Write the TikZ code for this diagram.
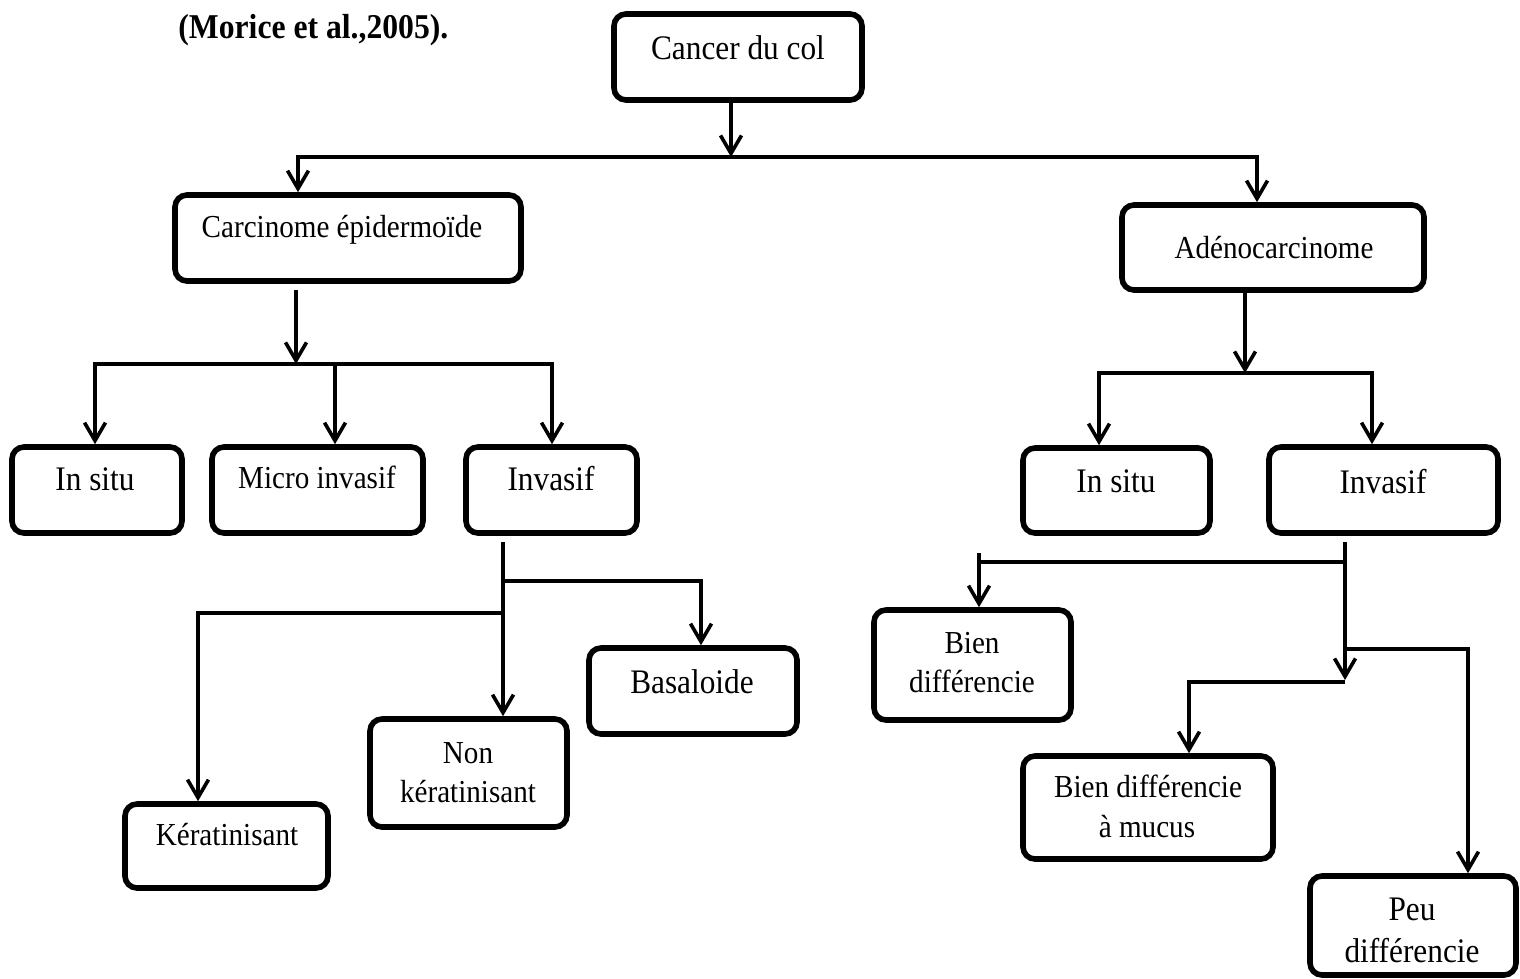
\documentclass[tikz,border=0pt]{standalone}
\usepackage{fontspec}
\setmainfont{Liberation Serif}[FakeStretch=0.91]
\usetikzlibrary{arrows.meta,fit}
\begin{document}
\begin{tikzpicture}[x=0.5pt,y=-0.5pt,
  box/.style={draw, line width=2.8pt, rounded corners=6pt, inner sep=0pt},
  conn/.style={line width=1.8pt},
  arr/.style={line width=1.8pt, -{Straight Barb[length=9pt,width=10.5pt]}},
  tsm/.style={font=\fontsize{16}{19}\selectfont, inner sep=0pt, anchor=base},
  tmd/.style={font=\fontsize{17.2}{20}\selectfont, inner sep=0pt, anchor=base},
]
\path[fill=white,use as bounding box] (0,0) rectangle (1520,979);

% title
\node[font=\fontsize{17.4}{21}\selectfont\bfseries, anchor=base west, inner sep=0pt] (title) at (178,39) {(Morice et al.,2005).};

% boxes
\node[box, fit={(614,14) (862,100)}] (col) {};
\node[box, fit={(175,195) (521,281)}] (carc) {};
\node[box, fit={(1122,205) (1424,290)}] (adeno) {};
\node[box, fit={(12,447) (182,533)}] (lsitu) {};
\node[box, fit={(212,447) (423,533)}] (micro) {};
\node[box, fit={(466,447) (637,533)}] (linv) {};
\node[box, fit={(589,648) (797,734)}] (basal) {};
\node[box, fit={(370,719) (567,827)}] (nonk) {};
\node[box, fit={(125,804) (328,888)}] (kera) {};
\node[box, fit={(1023,448) (1210,533)}] (rsitu) {};
\node[box, fit={(1269,447) (1498,533)}] (rinv) {};
\node[box, fit={(874,610) (1071,720)}] (bien) {};
\node[box, fit={(1023,756) (1273,859)}] (mucus) {};
\node[box, fit={(1310,876) (1516,975)}] (peu) {};

% texts
\node[tmd] (colt) at (738,60) {Cancer du col};
\node[tsm] (carct) at (342,237) {Carcinome épidermoïde};
\node[tsm] (adenot) at (1274,258) {Adénocarcinome};
\node[tmd] (lsitut) at (95,490) {In situ};
\node[tsm] (microt) at (317,488) {Micro invasif};
\node[tmd] (linvt) at (551,490) {Invasif};
\node[tmd] (basalt) at (692,693) {Basaloide};
\node[tsm] (nonkt1) at (468,763) {Non};
\node[tsm] (nonkt2) at (468,802) {kératinisant};
\node[tsm] (kerat) at (227,845) {Kératinisant};
\node[tmd] (rsitut) at (1116,492) {In situ};
\node[tmd] (rinvt) at (1383,493) {Invasif};
\node[tsm] (bient1) at (972,653) {Bien};
\node[tsm] (bient2) at (972,692) {différencie};
\node[tsm] (mucust1) at (1148,797) {Bien différencie};
\node[tsm] (mucust2) at (1147,837) {à mucus};
\node[tmd] (peut1) at (1412,920) {Peu};
\node[tmd] (peut2) at (1412,962) {différencie};

% junction coordinates
\coordinate (j0) at (731,157);
\coordinate (j0L) at (298,157);
\coordinate (j0R) at (1257,157);
\coordinate (c1s) at (296,290);
\coordinate (j1) at (296,364);
\coordinate (j1L) at (95,364);
\coordinate (j1M) at (335,364);
\coordinate (j1R) at (552,364);
\coordinate (j2) at (1245,373);
\coordinate (j2L) at (1099,373);
\coordinate (j2R) at (1372,373);
\coordinate (l1s) at (503,542);
\coordinate (l1a) at (503,581);
\coordinate (l1b) at (503,613);
\coordinate (l1c) at (701,581);
\coordinate (l1d) at (198,613);
\coordinate (r1s) at (1345,542);
\coordinate (r1e) at (1345,680);
\coordinate (r1a) at (1345,562);
\coordinate (r1b) at (979,562);
\coordinate (r1t) at (979,553);
\coordinate (r1c) at (1345,649);
\coordinate (r1d) at (1468,649);
\coordinate (r1f) at (1345,682);
\coordinate (r1g) at (1189,682);

% connectors
\draw[arr] (col.south -| j0) -- (j0);
\draw[arr] (j0) -- (j0L) -- (carc.north -| j0L);
\draw[arr] (j0) -- (j0R) -- (adeno.north -| j0R);

\draw[arr] (c1s) -- (j1);
\draw[arr] (j1) -- (j1L) -- (lsitu.north -| j1L);
\draw[arr] (j1) -- (j1R) -- (linv.north -| j1R);
\draw[arr] (j1M) -- (micro.north -| j1M);

\draw[arr] (adeno.south -| j2) -- (j2);
\draw[arr] (j2) -- (j2L) -- (rsitu.north -| j2L);
\draw[arr] (j2) -- (j2R) -- (rinv.north -| j2R);

\draw[arr] (l1s) -- (nonk.north -| l1s);
\draw[arr] (l1a) -- (l1c) -- (basal.north -| l1c);
\draw[arr] (l1b) -- (l1d) -- (kera.north -| l1d);

\draw[arr] (r1s) -- (r1e);
\draw[conn] (r1a) -- (r1b);
\draw[arr] (r1t) -- (bien.north -| r1t);
\draw[arr] (r1c) -- (r1d) -- (peu.north -| r1d);
\draw[arr] (r1f) -- (r1g) -- (mucus.north -| r1g);
\end{tikzpicture}
\end{document}
